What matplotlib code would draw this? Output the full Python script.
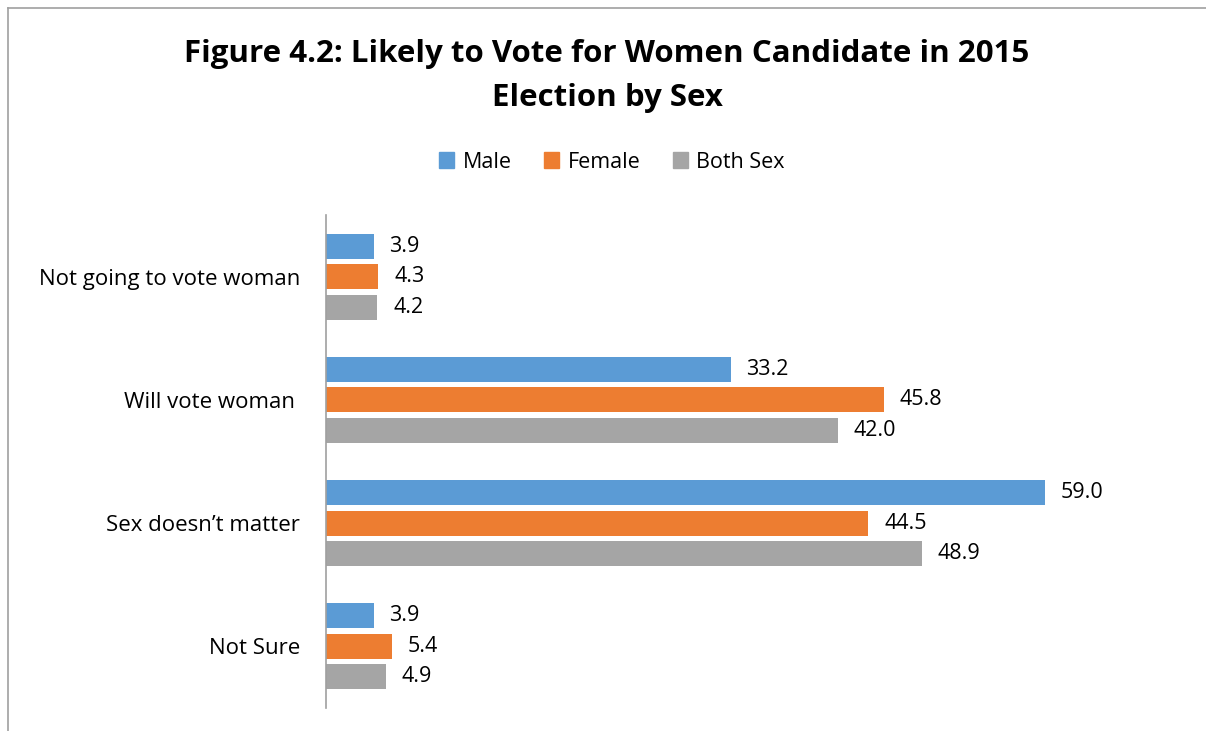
import numpy as np
import matplotlib.pyplot as plt
from matplotlib.lines import Line2D

plt.rcParams['font.family'] = ['Open Sans', 'DejaVu Sans']

# --- data ---
categories = ["Not going to vote woman", "Will vote woman ", "Sex doesn\u2019t matter", "Not Sure"]
series_names = ["Male", "Female", "Both Sex"]
male = [3.9, 33.2, 59.0, 3.9]
female = [4.3, 45.8, 44.5, 5.4]
both_sex = [4.2, 42.0, 48.9, 4.9]
colors = ["#5B9BD5", "#ED7D31", "#A5A5A5"]

W, H = 1206, 731
fig = plt.figure(figsize=(W / 100, H / 100), dpi=100)

# frame lines of the chart area (cropped)
fig.add_artist(Line2D([8 / W, 8 / W], [0, 1 - 8 / H], color="#A0A0A0", lw=1.2))
fig.add_artist(Line2D([8 / W, 1], [1 - 8 / H, 1 - 8 / H], color="#A0A0A0", lw=1.2))

ax = fig.add_axes([326 / W, 1 - 708 / H, 853 / W, 493 / H])

y = np.arange(len(categories))
bar_h = 0.203
step = 0.247
for k, (vals, name, c) in enumerate(zip([male, female, both_sex], series_names, colors)):
    pos = y + (k - 1) * step
    ax.barh(pos, vals, height=bar_h, color=c, label=name)
    for p, v in zip(pos, vals):
        ax.text(v + 1.3, p, f"{v:.1f}", va="center", ha="left", fontsize=15.5, color="#000000")

ax.set_xlim(0, 70)
ax.set_ylim(3.5, -0.5)
ax.set_yticks(y)
ax.set_yticklabels(categories, fontsize=16)
ax.tick_params(axis="y", length=0, pad=18.5)
ax.set_xticks([])
for s in ["top", "right", "bottom"]:
    ax.spines[s].set_visible(False)
ax.spines["left"].set_color("#A0A0A0")
ax.spines["left"].set_linewidth(1.2)

fig.text(607 / W, 1 - 76 / H, "Figure 4.2: Likely to Vote for Women Candidate in 2015\nElection by Sex",
         ha="center", va="center", fontsize=22.5, fontweight="bold", linespacing=1.65)

handles = [plt.Rectangle((0, 0), 1, 1, color=c) for c in colors]
fig.legend(handles, series_names, loc="center", bbox_to_anchor=(612 / W, 1 - 162 / H), ncol=3,
           frameon=False, fontsize=15.5, handlelength=0.7, handleheight=0.7, handletextpad=0.4,
           columnspacing=1.5)

fig.savefig("out.png", dpi=100)
